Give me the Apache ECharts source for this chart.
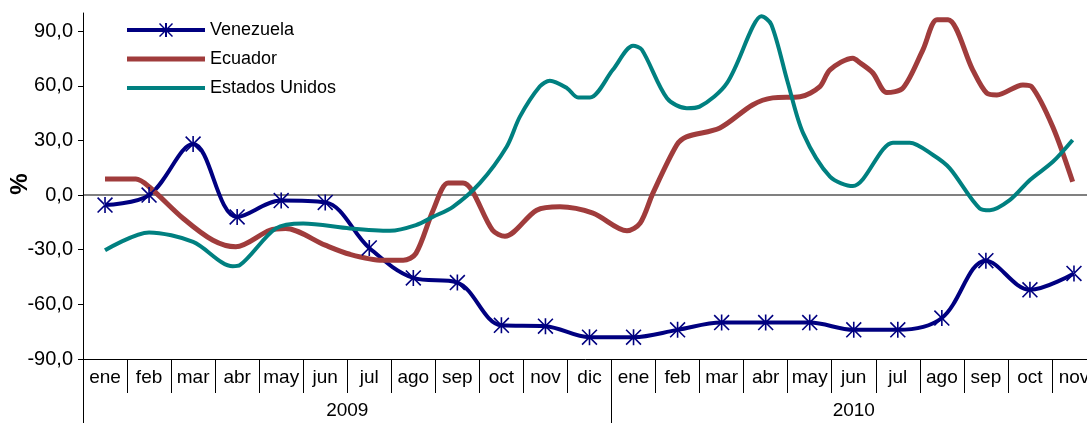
<!DOCTYPE html>
<html lang="es">
<head>
    <meta charset="UTF-8">
    <title>Venezuela, Ecuador, Estados Unidos</title>
    <script src="https://cdn.jsdelivr.net/npm/echarts@6/dist/echarts.min.js"></script>
    <style>
        * { margin: 0; padding: 0; box-sizing: border-box; }
        html, body { width: 100%; height: 100%; background: #fff; overflow: hidden; }
        #chart { width: 1087px; height: 423px; }
    </style>
</head>
<body>
    <div id="chart"></div>
    <script>
        // meses ene 2009 - nov 2010
        const months = ['ene', 'feb', 'mar', 'abr', 'may', 'jun', 'jul', 'ago', 'sep', 'oct', 'nov', 'dic',
                        'ene', 'feb', 'mar', 'abr', 'may', 'jun', 'jul', 'ago', 'sep', 'oct', 'nov'];
        const years = ['2009', '2010'];

        // Venezuela: un valor por mes
        const venezuela = [-5.5, 0, 28, -12, -3, -4, -29, -45.5, -48, -71.5, -72, -78,
                           -78, -74, -70, -70, -70, -74, -74, -67.5, -36, -52, -43];

        // Ecuador y Estados Unidos: serie más fina (posición en meses, 0 = ene 2009)
        const ecuadorPos = [0, 0.7, 1.0, 1.77, 2.45, 2.97, 3.74, 4.1, 5.0, 5.56, 6.3, 6.77, 7.06, 7.45,
                            7.79, 8.13, 8.8, 9.08, 9.8, 10.33, 11.08, 11.85, 12.15, 12.44, 12.98, 13.2,
                            13.96, 14.7, 15.16, 15.78, 16.23, 16.46, 16.98, 17.14, 17.43, 17.75, 18.12,
                            18.57, 18.89, 19.14, 19.7, 20.02, 20.25, 20.84, 21.04, 21.52, 21.97];
        const ecuadorVal = [8.8, 8.8, 4.6, -12.7, -24.8, -28.4, -19.3, -18.3, -27.5, -32.5, -35.8, -35.8, -32, -8.3,
                            6.6, 6.6, -19.3, -22.6, -8.3, -6.4, -9.9, -19.6, -15.4, 1.1, 27.5, 32,
                            36.9, 49.5, 53.4, 54, 59.6, 68.8, 75.2, 72.7, 67.2, 56.3, 58.9,
                            79.8, 96.3, 96.3, 68.8, 56, 55, 60.5, 59.5, 37.4, 7.3];

        const eeuuPos = [0, 1.0, 2.0, 2.9, 3.06, 3.88, 4.5, 5.56, 6.47, 7.06, 7.45, 7.9, 8.51, 9.12, 9.42,
                         9.87, 10.1, 10.49, 10.74, 11.01, 11.53, 11.99, 12.19, 12.76, 13.21, 13.5, 14.12,
                         14.71, 14.9, 15.13, 15.5, 15.85, 16.46, 16.98, 17.89, 18.27, 18.8, 19.18, 19.86,
                         20.09, 20.54, 21.0, 21.52, 21.97];
        const eeuuVal = [-30.3, -20.5, -25.7, -39.1, -38.5, -18.3, -15.6, -18.3, -19.6, -16.5, -11.9, -6.4, 6.6, 26.6, 43.1,
                         59.6, 62.8, 58.7, 53.6, 53.6, 68.8, 82, 79.8, 53.2, 47.7, 48.6, 61.5,
                         92.6, 98.2, 93.6, 62, 34, 10.1, 5, 28.8, 28.8, 22, 14.7, -7.3,
                         -8.3, -2.8, 8.3, 18.3, 30.3];

        // eje de años: media-posiciones de mes, etiquetas en el centro de cada año
        const yearSlots = [];
        for (let j = 0; j <= 46; j++) yearSlots.push('');
        yearSlots[12] = years[0];
        yearSlots[35] = years[1];
        const yearTicks = [0, 24, 46];

        const pair = (xs, ys) => xs.map((x, i) => [x, ys[i]]);

        const asterisk = 'path://M9 0L11 0L11 20L9 20Z M1.4 0L0 1.4L18.6 20L20 18.6Z M18.6 0L20 1.4L1.4 20L0 18.6Z';
        // iconos de leyenda 78x14: banda gruesa (y asterisco para Venezuela)
        const iconVen = 'path://M0 5L78 5L78 9L0 9Z M38 0L40 0L40 14L38 14Z M32 1L33 0L46 13L45 14Z M45 0L46 1L33 14L32 13Z';
        const iconEcu = 'path://M0 0L0.01 0L0.01 0.01Z M0 13.99L0.01 13.99L0.01 14L0 14Z M0 4.5L78 4.5L78 9.5L0 9.5Z';
        const iconUsa = 'path://M0 0L0.01 0L0.01 0.01Z M0 13.99L0.01 13.99L0.01 14L0 14Z M0 5L78 5L78 9L0 9Z';
        const font = "'Liberation Sans', Arial, sans-serif";

        const chart = echarts.init(document.getElementById('chart'), null, { renderer: 'canvas' });

        chart.setOption({
            animation: false,
            backgroundColor: '#fff',
            grid: { left: 83, right: -9, top: 13, bottom: 64, containLabel: false, outerBoundsMode: 'none' },
            // título del eje vertical
            graphic: [{
                type: 'text', x: 20, y: 184, rotation: Math.PI / 2,
                style: { text: '%', font: "bold 24px 'Liberation Sans', Arial, sans-serif", fill: '#000',
                         align: 'center', verticalAlign: 'middle' }
            }],
            legend: {
                left: 127, top: 21, orient: 'vertical', padding: 0,
                itemWidth: 78, itemHeight: 14, itemGap: 11,
                textStyle: { fontFamily: font, fontSize: 18, color: '#000' },
                data: [
                    { name: 'Venezuela', icon: iconVen },
                    { name: 'Ecuador', icon: iconEcu },
                    { name: 'Estados Unidos', icon: iconUsa }
                ]
            },
            xAxis: [
                {
                    type: 'category', data: months, position: 'bottom', boundaryGap: true,
                    axisLine: { show: true, onZero: false, lineStyle: { color: '#000', width: 1 } },
                    axisTick: { show: true, interval: 0, length: 34, lineStyle: { color: '#000' } },
                    axisLabel: { interval: 0, margin: 9, fontFamily: font, fontSize: 19, color: '#000' }
                },
                { type: 'value', min: -0.5, max: 22.5, show: false },
                {
                    type: 'category', data: yearSlots, position: 'bottom', boundaryGap: false,
                    axisLine: { show: false, onZero: false },
                    axisTick: { show: true, length: 64, interval: (i) => yearTicks.includes(i), lineStyle: { color: '#000' } },
                    axisLabel: { interval: (i) => yearSlots[i] !== '', margin: 42, fontFamily: font, fontSize: 19, color: '#000' }
                }
            ],
            yAxis: {
                type: 'value', min: -90, max: 100, interval: 30,
                axisLine: { show: true, onZero: false, lineStyle: { color: '#000', width: 1 } },
                axisTick: { show: true, length: 5, lineStyle: { color: '#000' } },
                axisLabel: {
                    showMaxLabel: false, margin: 10, fontFamily: font, fontSize: 20, color: '#000',
                    formatter: (v) => v.toFixed(1).replace('.', ',')
                },
                splitLine: {
                    show: true,
                    lineStyle: { width: 2, color: ['transparent', 'transparent', 'transparent', '#808080',
                                                   'transparent', 'transparent', 'transparent', 'transparent'] }
                }
            },
            series: [
                {
                    name: 'Venezuela', type: 'line', xAxisIndex: 0, data: venezuela,
                    smooth: 0.35, symbol: asterisk, symbolSize: 16,
                    lineStyle: { color: '#000080', width: 4 },
                    itemStyle: { color: '#000080' }
                },
                {
                    name: 'Ecuador', type: 'line', xAxisIndex: 1, data: pair(ecuadorPos, ecuadorVal),
                    smooth: 0.3, symbol: 'none',
                    lineStyle: { color: '#A03C3C', width: 5 },
                    itemStyle: { color: '#A03C3C' }
                },
                {
                    name: 'Estados Unidos', type: 'line', xAxisIndex: 1, data: pair(eeuuPos, eeuuVal),
                    smooth: 0.3, symbol: 'none',
                    lineStyle: { color: '#008080', width: 4 },
                    itemStyle: { color: '#008080' }
                }
            ]
        });
    </script>
</body>
</html>
